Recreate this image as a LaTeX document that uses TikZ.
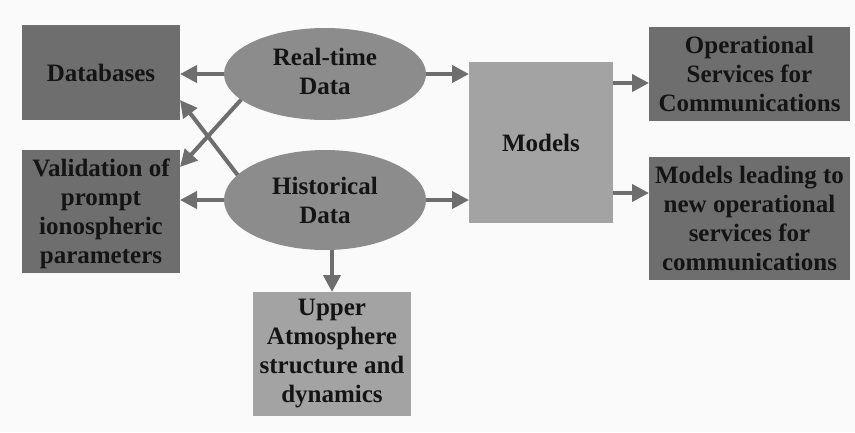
\documentclass[tikz,border=0pt]{standalone}
\usepackage{fontspec}
\setmainfont{Liberation Serif}
\usetikzlibrary{shapes.geometric,arrows.meta}
\definecolor{bgc}{RGB}{250,250,250}
\definecolor{darkbox}{RGB}{110,110,110}
\definecolor{ellc}{RGB}{140,140,140}
\definecolor{lightbox}{RGB}{163,163,163}
\definecolor{arrc}{RGB}{110,110,110}
\definecolor{txtc}{RGB}{20,20,20}
\tikzset{
  lbl/.style={text=txtc, font=\fontsize{25}{29}\selectfont\bfseries, align=center, inner sep=0pt, outer sep=0pt},
  darkrect/.style={lbl, rectangle, fill=darkbox},
  lightrect/.style={lbl, rectangle, fill=lightbox},
  oval/.style={lbl, ellipse, fill=ellc},
  arr/.style={draw=arrc, line width=4pt, -{Triangle[length=17pt,width=17pt]}}
}
\begin{document}
\begin{tikzpicture}[x=1pt,y=-1pt]
\fill[bgc] (0,0) rectangle (855,432);
\useasboundingbox (0,0) rectangle (855,432);
\node[darkrect, minimum width=158pt, minimum height=95pt] (db) at (101,72.5) {Databases};
\node[darkrect, minimum width=158pt, minimum height=123pt, text depth=-4pt] (val) at (101,211.5) {Validation of\\prompt\\ionospheric\\parameters};
\node[oval, minimum width=202pt, minimum height=92pt] (rt) at (325,74) {\raisebox{5pt}{\begin{tabular}{@{}c@{}}Real-time\\Data\end{tabular}}};
\node[oval, minimum width=202pt, minimum height=100pt] (hd) at (325,200) {Historical\\Data};
\node[lightrect, minimum width=158pt, minimum height=124pt] (up) at (332,354) {Upper\\Atmosphere\\structure and\\dynamics};
\node[lightrect, minimum width=144pt, minimum height=161pt] (md) at (541,142.5) {Models};
\node[darkrect, minimum width=201pt, minimum height=94pt] (op) at (749.5,74) {Operational\\Services for\\Communications};
\node[darkrect, minimum width=201pt, minimum height=123pt] (ml) at (749.5,218.5) {Models leading to\\new operational\\services for\\communications};
\draw[arr] (rt.west) -- (rt.west -| db.east);
\draw[arr] (hd.west) -- (hd.west -| val.east);
\draw[arr] (rt.197.6) -- ([yshift=-17pt]val.north east);
\draw[arr] (hd.164) -- ([yshift=20pt]db.south east);
\draw[arr] (rt.east) -- (rt.east -| md.west);
\draw[arr] (hd.east) -- (hd.east -| md.west);
\draw[arr] (up.north |- hd.south) -- (up.north);
\draw[arr] ([yshift=59.5pt]md.east) -- ([yshift=59.5pt]md.east -| op.west);
\draw[arr] ([yshift=-50.5pt]md.east) -- ([yshift=-50.5pt]md.east -| ml.west);
\end{tikzpicture}
\end{document}
